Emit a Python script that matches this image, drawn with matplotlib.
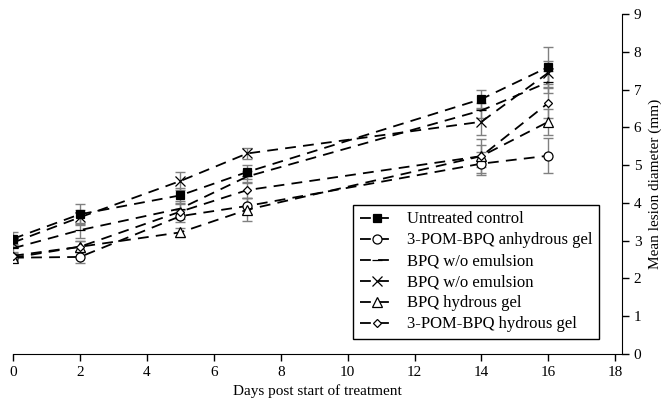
import matplotlib
matplotlib.use("Agg")
import matplotlib.pyplot as plt

days = [0, 2, 5, 7, 14, 16]
labels = ["Untreated control", "3-POM-BPQ anhydrous gel", "BPQ w/o emulsion",
          "BPQ w/o emulsion", "BPQ hydrous gel", "3-POM-BPQ hydrous gel"]
untreated = [3.05, 3.70, 4.20, 4.82, 6.75, 7.60]
untreated_err = [0.17, 0.27, 0.20, 0.18, 0.23, 0.52]
anhydrous = [2.55, 2.57, 3.65, 3.92, 5.04, 5.25]
anhydrous_err = [0.10, 0.17, 0.15, 0.20, 0.30, 0.46]
wo_emulsion_a = [2.80, 3.28, 3.85, 4.70, 6.45, 7.20]
wo_emulsion_a_err = [0.12, 0.20, 0.20, 0.15, 0.20, 0.30]
wo_emulsion_b = [2.95, 3.62, 4.58, 5.31, 6.15, 7.45]
wo_emulsion_b_err = [0.12, 0.20, 0.25, 0.15, 0.35, 0.30]
hydrous = [2.55, 2.84, 3.22, 3.82, 5.24, 6.15]
hydrous_err = [0.10, 0.15, 0.12, 0.30, 0.45, 0.35]
pom_hydrous = [2.60, 2.84, 3.77, 4.34, 5.24, 6.65]
pom_hydrous_err = [0.10, 0.15, 0.20, 0.20, 0.30, 0.40]

series = [untreated, anhydrous, wo_emulsion_a, wo_emulsion_b, hydrous, pom_hydrous]
errs = [untreated_err, anhydrous_err, wo_emulsion_a_err, wo_emulsion_b_err, hydrous_err, pom_hydrous_err]
markers = ["s", "o", "_", "x", "^", "D"]
mfc = ["black", "white", "black", "black", "white", "white"]
msizes = [6, 6.5, 7, 6.5, 6.5, 4.5]

plt.rcParams["font.family"] = ["Liberation Serif", "DejaVu Serif"]

fig = plt.figure(figsize=(6.61, 4.03), dpi=100)
ax = fig.add_axes([0.0197, 0.1216, 0.9213, 0.8434])

for y, e, m, fc, ms, lab in zip(series, errs, markers, mfc, msizes, labels):
    ax.errorbar(days, y, yerr=e, fmt="none", ecolor="#808080", elinewidth=1.0,
                capsize=3.5, capthick=1.0, zorder=2)
    ax.plot(days, y, linestyle=(0, (6, 4)), color="black", linewidth=1.3,
            marker=m, markersize=ms, markerfacecolor=fc, markeredgecolor="black",
            markeredgewidth=0.9, label=lab, zorder=3)

ax.set_xlim(0, 18.2)
ax.set_ylim(0, 9)
ax.set_xticks(range(0, 19, 2))
ax.set_yticks(range(0, 10))
ax.spines["left"].set_visible(False)
ax.spines["top"].set_visible(False)
ax.yaxis.tick_right()
ax.yaxis.set_label_position("right")
ax.tick_params(axis="both", direction="out", labelsize=11, length=5, width=1)
ax.set_xlabel("Days post start of treatment", fontsize=11)
ax.set_ylabel("Mean lesion diameter (mm)", fontsize=11, labelpad=5)

leg = ax.legend(loc="lower right", bbox_to_anchor=(0.962, 0.044), borderaxespad=0,
                fontsize=12, frameon=True, fancybox=False, edgecolor="black",
                framealpha=1, handlelength=2.0, labelspacing=0.3, borderpad=0.4)
leg.get_frame().set_linewidth(1.0)

fig.savefig("out.png", dpi=100)
